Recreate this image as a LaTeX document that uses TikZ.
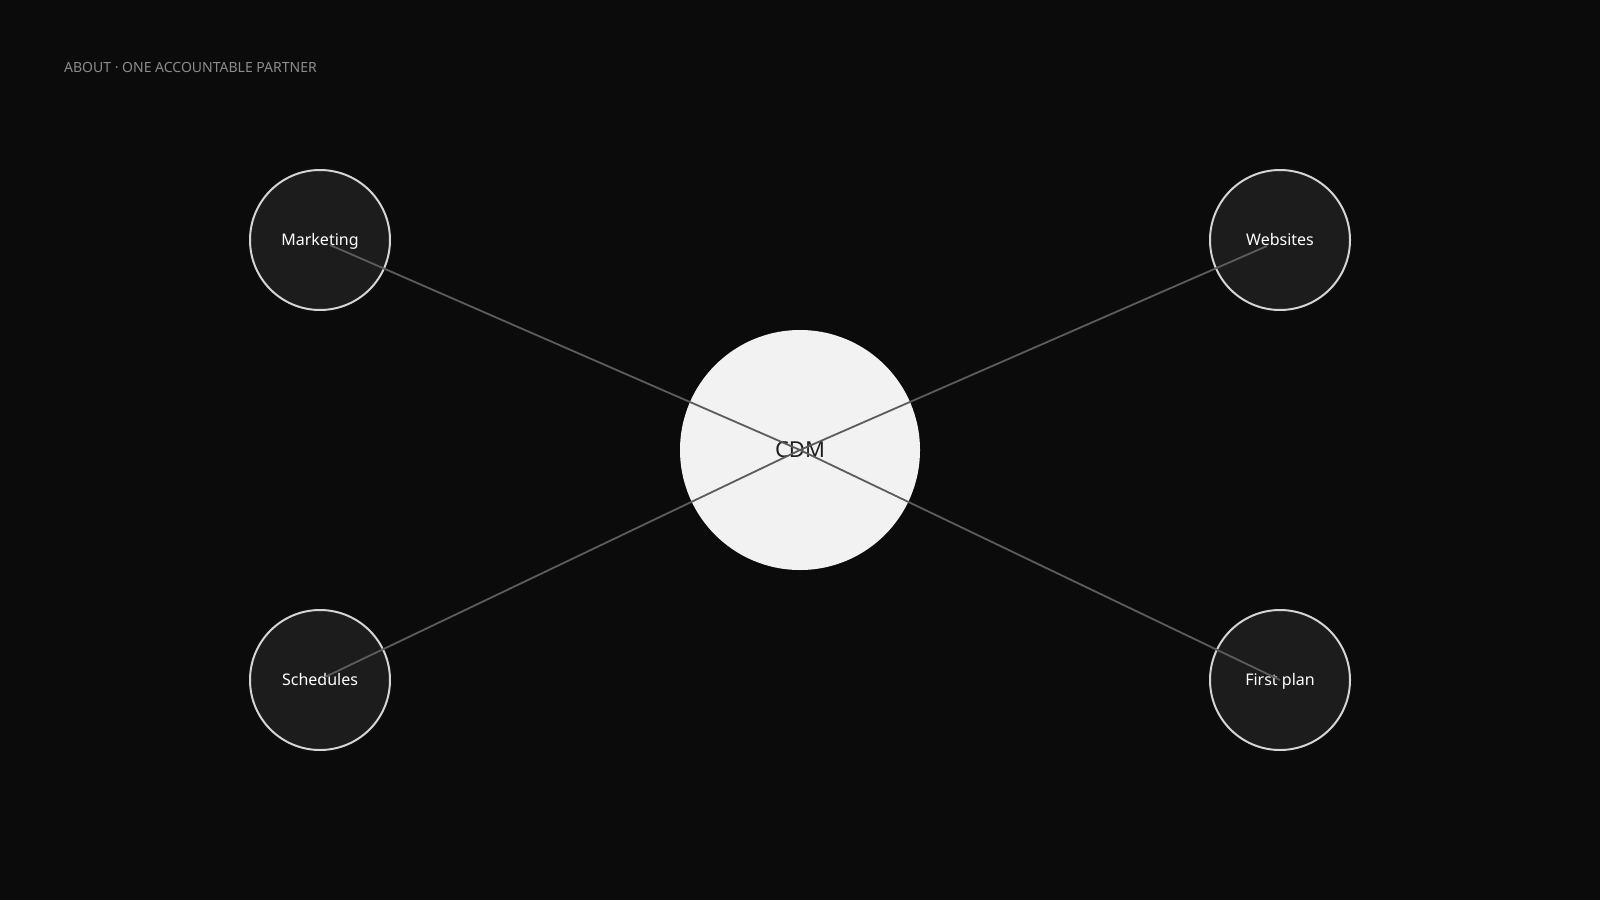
\documentclass[tikz,border=0pt]{standalone}
\usepackage{fontspec}
\setmainfont{Noto Sans}
\usetikzlibrary{positioning}
\definecolor{pagebg}{HTML}{0B0B0B}
\definecolor{smallfill}{HTML}{1C1C1C}
\definecolor{smallring}{HTML}{D4D4D4}
\definecolor{hubfill}{HTML}{F2F2F2}
\definecolor{hubtext}{HTML}{1E1E1E}
\definecolor{spoke}{HTML}{5C5C5C}
\definecolor{headgray}{HTML}{8C8C8C}

\begin{document}
\begin{tikzpicture}[x=1bp, y=-1bp,
    topic/.style={circle, draw=smallring, line width=2bp, fill=smallfill, minimum size=140bp, inner sep=0pt, text=white, text height=11.5bp, text depth=0pt, font=\fontsize{16bp}{19bp}\selectfont},
    hub/.style={circle, fill=hubfill, minimum size=240bp, inner sep=0pt, text=hubtext, text height=15.5bp, text depth=0pt, font=\fontsize{22bp}{26bp}\selectfont},
    spokeline/.style={draw=spoke, line width=1.8bp}]
    %Background
    \fill[pagebg] (0,0) rectangle (1600,900);

    \node at (64, 72) [anchor=base west, text=headgray, inner sep=0pt, font=\fontsize{14bp}{17bp}\selectfont] (title) {ABOUT · ONE ACCOUNTABLE PARTNER};

    \node at (800, 450) [hub] (cdm) {CDM};
    \node at (320, 240) [topic] (mkt) {Marketing};
    \node at (1280, 240) [topic] (web) {Websites};
    \node at (320, 680) [topic] (sch) {Schedules};
    \node at (1280, 680) [topic] (plan) {First plan};

    % spoke ends
    \coordinate (mkt-end) at (330, 245);
    \coordinate (web-end) at (1267, 246);
    \coordinate (sch-end) at (325, 677);
    \coordinate (plan-end) at (1280, 680);

    \draw[spokeline] (cdm.center) -- (mkt-end);
    \draw[spokeline] (cdm.center) -- (web-end);
    \draw[spokeline] (cdm.center) -- (sch-end);
    \draw[spokeline] (cdm.center) -- (plan-end);
\end{tikzpicture}
\end{document}
